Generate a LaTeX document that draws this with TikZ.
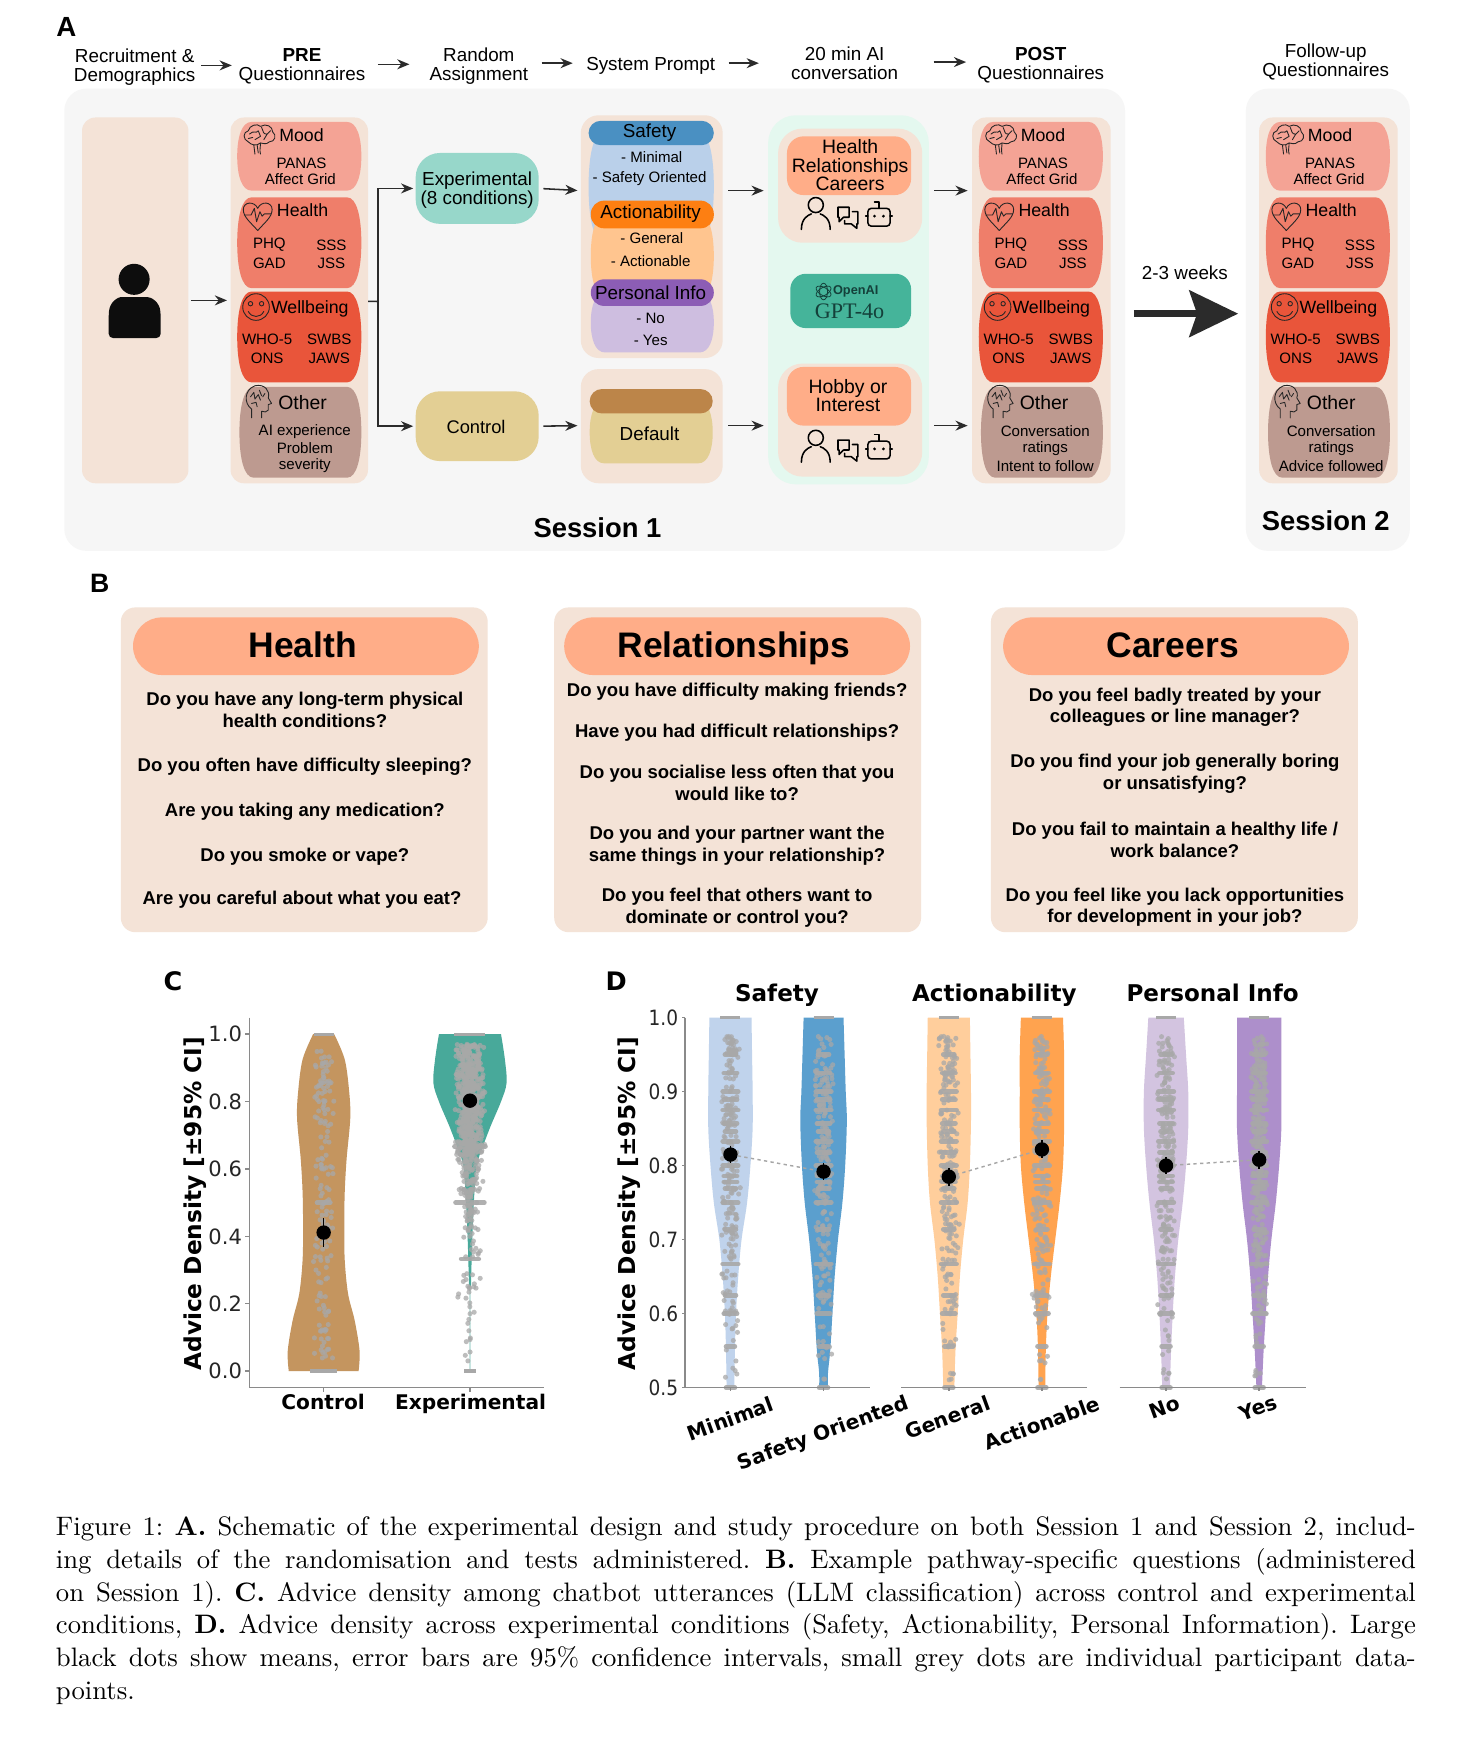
\documentclass[tikz,border=0pt]{standalone}
\usepackage{fontspec}
\usetikzlibrary{arrows.meta,calc}
\newfontfamily\arial{Liberation Sans}
\newfontfamily\dejavu{DejaVu Sans}
\newfontfamily\tms{Liberation Serif}
\newcommand\fsz[1]{\fontsize{#1}{#1}\selectfont}
\definecolor{beige}{HTML}{F4E3D7}
\definecolor{sessbg}{HTML}{F6F6F6}
\definecolor{peach}{HTML}{FFAD88}
\definecolor{cmood}{HTML}{F4A395}
\definecolor{chealth}{HTML}{EF7E6A}
\definecolor{cwell}{HTML}{E9553A}
\definecolor{cother}{HTML}{BD9A90}
\definecolor{inkc}{HTML}{2B2B2B}
\definecolor{dotg}{HTML}{A8A8A8}
\definecolor{axisg}{HTML}{8A8A8A}
\definecolor{HTMLexp}{HTML}{97D7CA}
\definecolor{HTMLctl}{HTML}{E3CF94}
\definecolor{HTMLsafL}{HTML}{BAD0EA}
\definecolor{HTMLsafD}{HTML}{4A90C2}
\definecolor{HTMLactL}{HTML}{FFC58F}
\definecolor{HTMLactD}{HTML}{FD7F12}
\definecolor{HTMLperL}{HTML}{CEBEE0}
\definecolor{HTMLperD}{HTML}{8C5DB5}
\definecolor{HTMLdefD}{HTML}{BC8549}
\definecolor{HTMLaibg}{HTML}{E4F8EF}
\definecolor{HTMLgpt}{HTML}{45B49A}
\definecolor{HTMLgptD}{HTML}{14403A}
\definecolor{HTMLctlv}{HTML}{C4955F}
\definecolor{HTMLexpv}{HTML}{48A99A}
\definecolor{HTMLdA}{HTML}{C0D3EC}
\definecolor{HTMLdB}{HTML}{5B9FCE}
\definecolor{HTMLdC}{HTML}{FFCE9C}
\definecolor{HTMLdD}{HTML}{FFA34F}
\definecolor{HTMLdE}{HTML}{D3C4E0}
\definecolor{HTMLdF}{HTML}{AD8FCB}
\tikzset{
  arr/.style={-{Stealth[length=11pt,width=9pt]},line width=1.4pt,draw=inkc},
  lin/.style={line width=1.4pt,draw=inkc},
  txt/.style={font=\arial\fsz{17},inner sep=0pt,align=center,text=black},
  lbl/.style={font=\arial\fsz{16},inner sep=0pt,align=center,text=black},
  sm/.style={font=\arial\fontsize{13.6}{14}\selectfont,inner sep=0pt,align=center,text=black},
  hdr/.style={font=\arial\fontsize{17}{17}\selectfont,inner sep=0pt,align=center,text=black},
  q/.style={font=\arial\bfseries\fontsize{16.7}{19.5}\selectfont,inner sep=0pt,align=center,text=black},
  ttl/.style={font=\arial\bfseries\fsz{32},inner sep=0pt,text=black,anchor=base},
  tickl/.style={font=\dejavu\fsz{19},inner sep=0pt,anchor=east,text=black!85},
  xlab/.style={font=\dejavu\bfseries\fsz{18.2},inner sep=0pt,text=black},
  ylab/.style={font=\dejavu\bfseries\fsz{21},inner sep=0pt,rotate=90,text=black},
  meandot/.style={circle,fill=black,minimum size=13pt,inner sep=0pt},
  axisl/.style={draw=axisg,line width=1.3pt},
  icn/.style={line width=.8pt,draw=black!85,line cap=round,line join=round},
  icb/.style={line width=1.4pt,draw=black,line cap=round,line join=round},
  dotc/.style={fill=dotg,opacity=.75},
  rowc/.style={draw=dotg,line width=4.2pt,line cap=round,opacity=.9},
}
\newcommand\rbox[7]{%
  \pgfmathsetmacro\bw{#4-#2}\pgfmathsetmacro\bh{#5-#3}%
  \pgfmathsetmacro\bx{(#2+#4)/2}\pgfmathsetmacro\by{(#3+#5)/2}%
  \node[fill=#6,rounded corners=#7pt,minimum width=\bw pt,minimum height=\bh pt,inner sep=0pt] (#1) at (\bx,\by) {};}
\newcommand\barrel[6]{%
  \pgfmathsetmacro\ax{#2+13}\pgfmathsetmacro\bx{#4-13}%
  \pgfmathsetmacro\acx{#2+4}\pgfmathsetmacro\bcx{#4-4}%
  \pgfmathsetmacro\ym{(#3+#5)/2}\pgfmathsetmacro\cu{#3+(#5-#3)*.22}\pgfmathsetmacro\cd{#5-(#5-#3)*.22}%
  \fill[#6] (\ax,#3) -- (\bx,#3) .. controls (\bcx,#3) and (#4,\cu) .. (#4,\ym) .. controls (#4,\cd) and (\bcx,#5) .. (\bx,#5) -- (\ax,#5) .. controls (\acx,#5) and (#2,\cd) .. (#2,\ym) .. controls (#2,\cu) and (\acx,#3) .. (\ax,#3) -- cycle;
  \pgfmathsetmacro\bw{#4-#2}\pgfmathsetmacro\bh{#5-#3}\pgfmathsetmacro\bmx{(#2+#4)/2}%
  \node[minimum width=\bw pt,minimum height=\bh pt,inner sep=0pt] (#1) at (\bmx,\ym) {};}
\newcommand\icbrain[2]{\begin{scope}[shift={(#1,#2)}]
  \draw[icn] (-10,4) .. controls (-15,2) and (-15,-5) .. (-10,-6) .. controls (-9,-11) and (-2,-13) .. (1,-10) .. controls (6,-13) and (12,-10) .. (12,-5) .. controls (16,-2) and (14,4) .. (9,4) .. controls (6,7) and (3,5) .. (1,5) .. controls (-3,8) and (-7,7) .. (-10,4);
  \draw[icn] (-5,7) -- (-4,15) (-2,7) -- (-1,14) (1,5) .. controls (1,9) and (0,11) .. (1,15);
  \draw[icn] (-9,-3) .. controls (-5,-7) and (-3,-3) .. (-1,-6) (-1,-6) -- (1,-1) -- (-4,2) (2,-9) .. controls (4,-5) and (3,-3) .. (7,-3) (7,-3) -- (10,-6) (4,2) -- (7,-3) (-10,1) -- (-6,0);
\end{scope}}
\newcommand\icheart[2]{\begin{scope}[shift={(#1,#2)}]
  \draw[icn] (0,15) .. controls (-6,8) and (-13,3) .. (-13,-4) .. controls (-13,-11) and (-3,-12) .. (0,-5) .. controls (3,-12) and (13,-11) .. (13,-4) .. controls (13,3) and (6,8) .. (0,15);
  \draw[icn] (-12,1) -- (-6,1) -- (-3,-5) -- (-1,7) -- (2,-2) -- (4,2) -- (6,0) -- (12,0);
\end{scope}}
\newcommand\icface[2]{\begin{scope}[shift={(#1,#2)}]
  \draw[icn] (0,0) circle (12);
  \draw[icn] (-5,-3) circle (2) (5,-3) circle (2);
  \draw[icn] (-7,4) .. controls (-4,10) and (4,10) .. (7,4);
\end{scope}}
\newcommand\ichead[2]{\begin{scope}[shift={(#1,#2)}]
  \draw[icn] (-6,16) -- (-6,8) .. controls (-13,3) and (-13,-9) .. (-3,-13) .. controls (6,-15) and (11,-8) .. (9,-2) -- (12,3) -- (9,4) -- (9,9) .. controls (8,11) and (5,11) .. (3,10) -- (3,16);
  \draw[icn] (-7,-3) -- (-4,-7) -- (-3,-1) (-3,-1) -- (0,-5) -- (2,0) (1,-9) -- (3,-4) (-6,3) -- (-2,2) -- (-1,6) (4,-3) -- (6,-6);
\end{scope}}
\newcommand\icconv[2]{\begin{scope}[shift={(#1,#2)}]
  \draw[icb] (0,-8) circle (6.8);
  \draw[icb] (-13,14) .. controls (-13,4) and (-7,1) .. (-4,0) (13,14) .. controls (13,4) and (7,1) .. (4,0);
  \draw[icb] (20,-6) -- (30,-6) -- (30,3) -- (25,3) -- (21,7) -- (21,3) -- (20,3) -- cycle;
  \draw[icb] (33,-2) -- (38,-2) -- (38,9) -- (37,9) -- (37,13) -- (32,9) -- (26,9) -- (26,6);
  \draw[icb,rounded corners=3pt] (47,-5) rectangle (67,11);
  \draw[icb] (57,-5) -- (57,-11) -- (53,-11) (45,2) -- (47,2) (67,2) -- (69,2);
  \fill (53,2) circle (1.4) (61,2) circle (1.4);
\end{scope}}
% questionnaire column: x shift, name prefix, three lines of "Other"
\newcommand\qcol[6]{\begin{scope}[shift={(#1,0)}]
  \barrel{#2mood}{214}{110}{326}{172}{cmood}
  \barrel{#2health}{214}{178}{326}{260}{chealth}
  \barrel{#2well}{214}{263}{326}{345}{cwell}
  \barrel{#2other}{216}{349}{326}{431}{cother}
  \icbrain{234}{124}\icheart{232.5}{193}\icface{231}{277}\ichead{233}{361}
  \node[lbl] (#2t1) at (272,122) {Mood};
  \node[sm] (#2t2) at (272,147.5) {PANAS};
  \node[sm] (#2t3) at (271,161.5) {Affect Grid};
  \node[lbl] (#2t4) at (273,189.5) {Health};
  \node[sm] (#2t5) at (243,221) {PHQ};
  \node[sm] (#2t6) at (299,221) {SSS};
  \node[sm] (#2t7) at (243,237.5) {GAD};
  \node[sm] (#2t8) at (299,237.5) {JSS};
  \node[lbl] (#2t9) at (279.5,278.5) {Wellbeing};
  \node[sm] (#2t10) at (241,306.5) {WHO-5};
  \node[sm] (#2t11) at (297,306.5) {SWBS};
  \node[sm] (#2t12) at (241,323.5) {ONS};
  \node[sm] (#2t13) at (297,323.5) {JAWS};
  \node[txt,font=\arial\fsz{17.5}] (#2t14) at (273,363.5) {Other};
  \node[sm] (#2t15) at (#6,389) {#3};
  \node[sm] (#2t16) at (#6,404.5) {#4};
  \node[sm] (#2t17) at (#6,420.5) {#5};
\end{scope}}
\newcommand\jit[5]{\foreach \i in {1,...,#4}{%
  \pgfmathsetmacro\px{#1+#5*(rnd-rnd)}\pgfmathsetmacro\py{\yo-\ys*(#2+(#3-#2)*rnd)}%
  \fill[dotc] (\px,\py) circle (2.3);}}
\newcommand\drow[3]{\pgfmathsetmacro\py{\yo-\ys*#2}\pgfmathsetmacro\pa{#1-#3}\pgfmathsetmacro\pb{#1+#3}%
  \draw[rowc] (\pa,\py) -- (\pb,\py);}
\newcommand\violin[6]{\foreach \sg in {1,-1}{\begin{scope}[shift={(#1,#2)},x=\sg pt,y=#3pt]
  \fill[#4] plot[smooth,tension=.55] coordinates {#5} -- (-.6,#6) -- (-.6,1) -- cycle;
\end{scope}}}
\newcommand\dcol[3]{% cx, dots per band, jitter
  \jit{#1}{.84}{.975}{#2}{#3}\jit{#1}{.68}{.84}{#2}{#3}\jit{#1}{.6}{.68}{28}{9}\jit{#1}{.51}{.6}{14}{8}
  \foreach \vv/\hw in {.95/5,.925/6,.9/7,.889/6,.875/7,.857/6,.846/5,.833/7,.818/6,.8/7,.786/6,.778/6,.769/5,.75/7,.714/5,.667/7,.625/5,.6/6,.556/4}{\drow{#1}{\vv}{\hw}}
  \draw[draw=dotg,line width=3pt] ($(#1,918)+(-9,0)$) -- ($(#1,918)+(9,0)$);
  \drow{#1}{.5}{4}}
\begin{document}
\begin{tikzpicture}[x=1pt,y=-1pt]
\useasboundingbox (0,0) rectangle (1328,1568);
\fill[white] (0,0) rectangle (1328,1568);
\pgfmathsetseed{4711}
% ---------- A
\node[font=\arial\bfseries\fsz{25},inner sep=0pt] (labA) at (60,24) {A};
\rbox{sess1}{58}{80}{1015}{497}{sessbg}{20}
\rbox{sess2}{1124}{80}{1272}{497}{sessbg}{20}
\node[hdr] (hRec) at (121.5,60.5) {Recruitment \&\\Demographics};
\node[hdr] (hPre) at (272.5,60) {\textbf{PRE}\\Questionnaires};
\node[hdr] (hRand) at (432,60) {Random\\Assignment};
\node[hdr] (hSys) at (587,59) {System Prompt};
\node[hdr] (hConv) at (762,57) {20 min AI\\conversation};
\node[hdr] (hPost) at (939,59) {\textbf{POST}\\Questionnaires};
\node[hdr] (hFoll) at (1196,56) {Follow-up\\Questionnaires};
\coordinate (r1) at (0,59); \coordinate (r2) at (0,58); \coordinate (r3) at (0,57); \coordinate (r4) at (0,56);
\draw[arr,shorten <=5pt,shorten >=6pt] (hRec.east |- r1) -- (hPre.west |- r1);
\draw[arr,shorten <=11pt,shorten >=18pt] (hPre.east |- r2) -- (hRand.west |- r2);
\draw[arr,shorten <=12pt,shorten >=12pt] (hRand.east |- r3) -- (hSys.west |- r3);
\draw[arr,shorten <=12pt,shorten >=29pt] (hSys.east |- r3) -- (hConv.west |- r3);
\draw[arr,shorten <=32pt,shorten >=10pt] (hConv.east |- r4) -- (hPost.west |- r4);
% person
\rbox{persP}{74}{106}{170}{436}{beige}{12}
\fill[black!95] (121,252) circle (14);
\fill[black!95,rounded corners=4pt] (98,305) -- (98,285) .. controls (99,272) and (107,268) .. (113,268) -- (129,268) .. controls (136,268) and (144,272) .. (145,285) -- (145,305) -- cycle;
% columns
\rbox{prep}{208}{106}{332}{436}{beige}{12}
\rbox{postp}{877}{106}{1002}{436}{beige}{12}
\rbox{s2p}{1136}{106}{1261}{436}{beige}{12}
\qcol{0}{a}{AI experience}{Problem}{severity}{275}
\qcol{669}{b}{Conversation}{ratings}{Intent to follow}{274}
\qcol{928}{c}{Conversation}{ratings}{Advice followed}{273}
% random assignment
\rbox{expn}{375}{138}{486}{202}{HTMLexp}{22}
\rbox{ctln}{375}{353}{486}{416}{HTMLctl}{22}
\node[txt,font=\arial\fontsize{17}{16.5}\selectfont] (expt) at (430.5,171.5) {Experimental\\(8 conditions)};
\node[txt,font=\arial\fsz{16.5}] (ctlt) at (429.5,385) {Control};
% prompts
\rbox{sysA}{524}{104}{652}{323}{beige}{16}
\rbox{sysB}{524}{333}{652}{436}{beige}{16}
\barrel{safB}{531}{120}{644}{217}{HTMLsafL}
\rbox{safH}{531}{109}{644}{131}{HTMLsafD}{11}
\barrel{actB}{533}{194}{644}{268}{HTMLactL}
\rbox{actH}{533}{181}{644}{206}{HTMLactD}{12}
\barrel{perB}{533}{264}{644}{318}{HTMLperL}
\rbox{perH}{533}{252}{644}{276}{HTMLperD}{12}
\barrel{defB}{532}{362}{643}{418}{HTMLctl}
\rbox{defH}{532}{351}{643}{373}{HTMLdefD}{11}
\node[txt] (pt1) at (586,120) {Safety};
\node[sm] (pt2) at (588,141.5) {- Minimal};
\node[sm] (pt3) at (586,161) {- Safety Oriented};
\node[txt] (pt4) at (587,193) {Actionability};
\node[sm] (pt5) at (588,215) {- General};
\node[sm] (pt6) at (587,235.5) {- Actionable};
\node[txt] (pt7) at (587,264.5) {Personal Info};
\node[sm] (pt8) at (587,287.5) {- No};
\node[sm] (pt9) at (587,307.5) {- Yes};
\node[txt] (pt10) at (586,391) {Default};
% conversation
\rbox{aiP}{693}{104}{838}{437}{HTMLaibg}{25}
\rbox{convA}{702}{116}{832}{219}{beige}{22}
\rbox{convAh}{710}{123}{822}{176}{peach}{15}
\rbox{convB}{702}{328}{832}{430}{beige}{22}
\rbox{convBh}{710}{331}{822}{384}{peach}{15}
\node[txt,font=\arial\fontsize{17.5}{16.5}\selectfont] (convAt) at (767,149) {Health\\Relationships\\Careers};
\node[txt,font=\arial\fontsize{17.5}{16.5}\selectfont] (convBt) at (765,357) {Hobby or\\Interest};
\icconv{736}{193}\icconv{736}{403}
\rbox{gpt}{713}{247}{822}{296}{HTMLgpt}{14}
\foreach \r in {0,60,120}{\draw[line width=.7pt,draw=HTMLgptD,rotate around={\r:(743,263)}] (743,263) ellipse (3.6 and 7.5);}
\node[font=\arial\bfseries\fsz{11.5},inner sep=0pt,text=HTMLgptD] (gptO) at (772,263) {OpenAI};
\node[font=\tms\fsz{20},inner sep=0pt,text=HTMLgptD] (gptM) at (766.5,281) {GPT-4o};
% connectors
\draw[arr,shorten <=2pt,shorten >=3pt] (persP) -- (prep);
\coordinate (branch) at (341,272);
\draw[lin] (prep) -- (branch);
\draw[arr,shorten >=2pt] (branch) |- (expn);
\draw[arr,shorten >=2pt] (branch) |- (ctln);
\coordinate (sA) at (524,172); \coordinate (sB) at (524,384);
\coordinate (cA) at (693,172); \coordinate (cB) at (693,384);
\coordinate (pA) at (877,172); \coordinate (pB) at (877,384);
\coordinate (eA) at (652,172); \coordinate (eB) at (652,384);
\coordinate (fA) at (838,172); \coordinate (fB) at (838,384);
\draw[arr,shorten <=4pt,shorten >=3pt] (expn.east) -- (sA);
\draw[arr,shorten <=4pt,shorten >=3pt] (ctln.east) -- (sB);
\draw[arr,shorten <=5pt,shorten >=4pt] (eA) -- (cA);
\draw[arr,shorten <=5pt,shorten >=4pt] (eB) -- (cB);
\draw[arr,shorten <=5pt,shorten >=4pt] (fA) -- (pA);
\draw[arr,shorten <=5pt,shorten >=4pt] (fB) -- (pB);
\node[txt] (lag) at (1069,246) {2-3 weeks};
\coordinate (bigS) at (1023,283); \coordinate (bigE) at (1117,283);
\draw[line width=6pt,draw=inkc,-{Stealth[length=44pt,width=42pt,inset=7pt]}] (bigS) -- (bigE);
\node[font=\arial\bfseries\fsz{24.7},inner sep=0pt] (s1l) at (539,476) {Session 1};
\node[font=\arial\bfseries\fsz{24.7},inner sep=0pt] (s2l) at (1196,470) {Session 2};
% ---------- B
\node[font=\arial\bfseries\fsz{24},inner sep=0pt] (labB) at (90,526) {B};
\rbox{b1}{109}{548}{440}{841}{beige}{13}
\rbox{b2}{500}{548}{831}{841}{beige}{13}
\rbox{b3}{894}{548}{1225}{841}{beige}{13}
\rbox{b1h}{120}{557}{432}{609}{peach}{26}
\rbox{b2h}{509}{557}{821}{609}{peach}{26}
\rbox{b3h}{905}{557}{1217}{609}{peach}{26}
\node[ttl] (b1t) at (273,593.5) {Health};
\node[ttl] (b2t) at (662,593.5) {Relationships};
\node[ttl] (b3t) at (1058,593.5) {Careers};
\node[q] (q11) at (275,640.5) {Do you have any long-term physical\\health conditions?};
\node[q] (q12) at (275,692) {Do you often have difficulty sleeping?};
\node[q] (q13) at (275,732) {Are you taking any medication?};
\node[q] (q14) at (275,772.5) {Do you smoke or vape?};
\node[q] (q15) at (272.5,812) {Are you careful about what you eat?};
\node[q] (q21) at (665,624) {Do you have difficulty making friends?};
\node[q] (q22) at (665,661) {Have you had difficult relationships?};
\node[q] (q23) at (665,706.5) {Do you socialise less often that you\\would like to?};
\node[q] (q24) at (665,763) {Do you and your partner want the\\same things in your relationship?};
\node[q] (q25) at (665,819) {Do you feel that others want to\\dominate or control you?};
\node[q] (q31) at (1060,638) {Do you feel badly treated by your\\colleagues or line manager?};
\node[q] (q32) at (1060,698) {Do you find your job generally boring\\or unsatisfying?};
\node[q] (q33) at (1060,758) {Do you fail to maintain a healthy life /\\work balance?};
\node[q] (q34) at (1060,818.5) {Do you feel like you lack opportunities\\for development in your job?};
% ---------- C
\node[font=\dejavu\bfseries\fsz{23},inner sep=0pt] (labC) at (156,885) {C};
\def\yo{1237}\def\ys{304}
\violin{292}{1237}{304}{HTMLctlv}{(9.5,1)(19,.925)(23,.83)(24,.75)(20.7,.63)(19,.53)(18.6,.43)(19,.33)(22,.23)(28,.15)(32.4,.06)(31.5,0)}{0}
\draw[draw=HTMLexpv!30,line width=2.2pt] (424,1160) -- (424,1237);
\violin{424}{1237}{304}{HTMLexpv}{(28,1)(31.5,.925)(33,.855)(28,.8)(19,.73)(12,.67)(6,.61)(4,.53)(2.5,.43)(1.5,.33)(.9,.25)}{.25}
\jit{292}{.03}{.95}{170}{10}
\foreach \vv/\hw in {.5/6}{\drow{292}{\vv}{\hw}}
\draw[draw=dotg,line width=3pt] (283,933) -- (301,933) (280,1237) -- (304,1237);
\jit{424}{.62}{.97}{620}{14}\jit{424}{.52}{.62}{70}{12}\jit{424}{.38}{.52}{45}{9}\jit{424}{.2}{.38}{26}{13}\jit{424}{.03}{.2}{12}{9}
\foreach \vv/\hw in {.667/14,.5/13,.333/8}{\drow{424}{\vv}{\hw}}
\draw[draw=dotg,line width=3pt] (410,933) -- (438,933) (419,1237) -- (429,1237);
\draw[axisl] (225,918) -- (225,1252) -- (491,1252);
\foreach \vv/\n/\lab in {0/a/0.0,0.2/b/0.2,0.4/c/0.4,0.6/d/0.6,0.8/e/0.8,1/f/1.0}{
  \pgfmathsetmacro\yy{1237-304*\vv}
  \draw[axisl] (225,\yy) -- (221,\yy);
  \node[tickl] (tc\n) at (218.5,\yy) {\lab};}
\draw[axisl] (292,1252) -- (292,1256); \draw[axisl] (424,1252) -- (424,1256);
\node[ylab] (ylc) at (176,1086) {Advice Density [±95\% CI]};
\node[xlab,anchor=base] (xc1) at (291.5,1272) {Control};
\node[xlab,anchor=base] (xc2) at (424.5,1272) {Experimental};
\draw[line width=1.5pt] (292,1099) -- (292,1125);
\node[meandot] (mc1) at (292,1112) {};
\node[meandot] (mc2) at (424,993) {};
% ---------- D
\node[font=\dejavu\bfseries\fsz{23},inner sep=0pt] (labD) at (556,885) {D};
\def\yo{1586}\def\ys{668}
\violin{659}{1586}{668}{HTMLdA}{(19,1)(19.5,.95)(20,.9)(20,.85)(18,.8)(15,.75)(10,.7)(7,.65)(5,.6)(4,.55)(3.5,.5)}{.5}
\violin{743}{1586}{668}{HTMLdB}{(18,1)(19,.95)(20,.9)(21,.86)(19.5,.8)(17,.75)(13,.7)(10,.65)(8,.6)(6,.55)(4,.52)(4,.5)}{.5}
\violin{856}{1586}{668}{HTMLdC}{(19,1)(19.5,.95)(20,.9)(20,.86)(19,.8)(17,.75)(13,.7)(10,.65)(8,.6)(6,.55)(5,.5)}{.5}
\violin{940}{1586}{668}{HTMLdD}{(19,1)(20,.95)(20,.9)(20,.85)(19,.8)(16,.75)(12,.7)(8,.65)(5,.6)(3.5,.55)(3,.5)}{.5}
\violin{1052}{1586}{668}{HTMLdE}{(16,1)(18,.95)(20,.9)(20,.85)(18,.8)(15,.75)(11,.7)(8,.65)(6,.6)(4.5,.55)(3.5,.5)}{.5}
\violin{1136}{1586}{668}{HTMLdF}{(20,1)(20,.95)(20,.9)(20,.85)(18,.8)(15,.75)(11,.7)(8,.65)(6,.6)(4,.55)(2.5,.5)}{.5}
\dcol{659}{90}{9}\dcol{743}{85}{9}\dcol{856}{90}{10}\dcol{940}{85}{9}\dcol{1052}{90}{9}\dcol{1136}{130}{8}
\draw[axisl] (618,918) -- (618,1252) -- (785,1252);
\draw[axisl] (813,1252) -- (981,1252);
\draw[axisl] (1010,1252) -- (1178,1252);
\foreach \vv/\n/\lab in {0.5/a/0.5,0.6/b/0.6,0.7/c/0.7,0.8/d/0.8,0.9/e/0.9,1/f/1.0}{
  \pgfmathsetmacro\yy{1586-668*\vv}
  \draw[axisl] (618,\yy) -- (615,\yy);
  \node[tickl] (td\n) at (612,\yy) {\scalebox{.88}[1]{\lab}};}
\foreach \xx in {659,743,856,940,1052,1136}{\draw[axisl] (\xx,1252) -- (\xx,1255);}
\node[ylab] (yld) at (568,1086) {Advice Density [±95\% CI]};
\node[xlab,font=\dejavu\bfseries\fsz{20.8},anchor=base] (dt1) at (701,903.5) {Safety};
\node[xlab,font=\dejavu\bfseries\fsz{20.8},anchor=base] (dt2) at (897,903.5) {Actionability};
\node[xlab,font=\dejavu\bfseries\fsz{20.8},anchor=base] (dt3) at (1094,903.5) {Personal Info};
\node[xlab,rotate=20] (xd1) at (659,1280) {Minimal};
\node[xlab,rotate=20] (xd2) at (743,1294) {Safety Oriented};
\node[xlab,rotate=20] (xd3) at (855,1279) {General};
\node[xlab,rotate=20] (xd4) at (940,1284) {Actionable};
\node[xlab,rotate=20] (xd5) at (1051,1270) {No};
\node[xlab,rotate=20] (xd6) at (1135,1270) {Yes};
\foreach \xx/\m in {659/.815,743/.792,856/.785,940/.822,1052/.8,1136/.808}{
  \pgfmathsetmacro\yy{1586-668*\m}\pgfmathsetmacro\ya{\yy-8}\pgfmathsetmacro\yb{\yy+8}
  \draw[line width=1.3pt] (\xx,\ya) -- (\xx,\yb);}
\node[meandot] (md1) at (659,1041.6) {};
\node[meandot] (md2) at (743,1057) {};
\node[meandot] (md3) at (856,1061.6) {};
\node[meandot] (md4) at (940,1037) {};
\node[meandot] (md5) at (1052,1051.6) {};
\node[meandot] (md6) at (1136,1046.3) {};
\draw[dashed,draw=black!35,line width=1.3pt] (md1) -- (md2);
\draw[dashed,draw=black!35,line width=1.3pt] (md3) -- (md4);
\draw[dashed,draw=black!35,line width=1.3pt] (md5) -- (md6);
% ---------- caption
\node[scale=2.2,text width=557.7pt,align=justify,inner sep=0pt,anchor=north west,font=\fontsize{10.95}{13.42}\selectfont] (capt) at (50,1368) {\frenchspacing Figure 1: \textbf{A.} Schematic of the experimental design and study procedure on both Session 1 and Session 2, includ-\linebreak ing details of the randomisation and tests administered. \textbf{B.} Example pathway-specific questions (administered\linebreak on Session 1). \textbf{C.} Advice density among chatbot utterances (LLM classification) across control and experimental\linebreak conditions, \textbf{D.} Advice density across experimental conditions (Safety, Actionability, Personal Information). Large\linebreak black dots show means, error bars are 95\% confidence intervals, small grey dots are individual participant data-\linebreak points.};
\end{tikzpicture}
\end{document}
